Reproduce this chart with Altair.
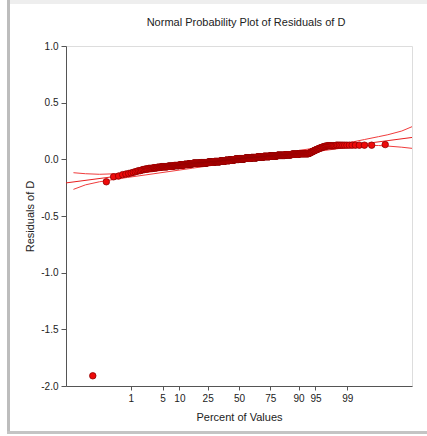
import altair as alt
import pandas as pd
from statistics import NormalDist

# ---- data ----
# sorted residual values (levels) and how many residuals sit at each level
resid_levels = [-1.910, -0.198, -0.154, -0.147,
                -0.135, -0.130, -0.125, -0.120, -0.115, -0.110, -0.105, -0.100, -0.095, -0.090, -0.085,
                -0.080, -0.075, -0.070, -0.065, -0.060, -0.055, -0.050, -0.045, -0.040,
                -0.035, -0.030, -0.025, -0.020, -0.015, -0.010, -0.005, 0.000,
                0.005, 0.010, 0.015, 0.020, 0.025, 0.030, 0.035, 0.040, 0.045, 0.050,
                0.055, 0.060, 0.065, 0.070, 0.075, 0.080, 0.085, 0.090, 0.095, 0.100,
                0.105, 0.110, 0.115, 0.120, 0.125, 0.130]
resid_counts = [1, 1, 1, 1,
                1, 1, 1, 1, 1, 1, 1, 2, 1, 2, 3,
                5, 5, 6, 12, 13, 14, 15, 15, 16,
                33, 35, 35, 35, 29, 29, 30, 30,
                37, 38, 38, 36, 35, 35, 35, 23, 23, 24,
                3, 2, 2, 2, 2, 2, 2, 2, 2, 2,
                2, 2, 3, 8, 13, 1]

# fitted reference line (normal score -> residual)
line_z = [-3.72, 3.72]
line_val = [-0.208, 0.193]

# confidence band curves
band_z = [-3.56, -3.3, -3.0, -2.7, -2.4, -2.0, -1.0, 0.0, 1.0, 2.0, 2.4, 2.7, 3.0, 3.2, 3.5, 3.72]
band_lower = [-0.265, -0.225, -0.198, -0.178, -0.160, -0.137, -0.078, -0.020, 0.033, 0.087,
              0.110, 0.120, 0.122, 0.117, 0.107, 0.097]
band_upper = [-0.118, -0.127, -0.132, -0.128, -0.118, -0.101, -0.050, 0.005, 0.060, 0.123,
              0.150, 0.175, 0.200, 0.217, 0.250, 0.288]

tick_pct = [1, 5, 10, 25, 50, 75, 90, 95, 99]
y_ticks = [-2.0, -1.5, -1.0, -0.5, 0.0, 0.5, 1.0]
title_text = ["Normal Probability Plot of Residuals of D"]

# ---- tables ----
resid = [v for v, c in zip(resid_levels, resid_counts) for _ in range(c)]
n = len(resid)
pts = pd.DataFrame({"resid": resid})
band = pd.DataFrame({"z": band_z, "lower": band_lower, "upper": band_upper})
fit = pd.DataFrame({"z": line_z, "v": line_val})
tick_z = [NormalDist().inv_cdf(p / 100) for p in tick_pct]

FONT = "Liberation Sans"
W, H = 346, 340
AX = "#555555"
TXT = "#222222"

xscale = alt.Scale(domain=[-3.72, 3.72], nice=False, zero=False)
yscale = alt.Scale(domain=[-2.0, 1.0], nice=False, zero=False)

xaxis = alt.Axis(values=tick_z, labelExpr="format(cumulativeNormal(datum.value)*100, '.0f')",
                 title="Percent of Values", grid=False, tickSize=4, labelPadding=3,
                 titlePadding=8, domainColor=AX, tickColor=AX,
                 labelFont=FONT, titleFont=FONT, labelFontSize=10, titleFontSize=11,
                 labelColor=TXT, titleColor=TXT, titleFontWeight="normal")
yaxis = alt.Axis(values=y_ticks, labelExpr="replace(format(datum.value, '.1f'), '\u2212', '-')",
                 title="Residuals of D", grid=False,
                 tickSize=5, labelPadding=3, titlePadding=5,
                 domainColor=AX, tickColor=AX,
                 labelFont=FONT, titleFont=FONT, labelFontSize=10, titleFontSize=11,
                 labelColor=TXT, titleColor=TXT, titleFontWeight="normal")

lower_line = alt.Chart(band).mark_line(color="#f03c3c", strokeWidth=1).encode(
    x=alt.X("z:Q", scale=xscale, axis=xaxis),
    y=alt.Y("lower:Q", scale=yscale, axis=yaxis),
)
upper_line = alt.Chart(band).mark_line(color="#f03c3c", strokeWidth=1).encode(
    x=alt.X("z:Q", scale=xscale),
    y=alt.Y("upper:Q", scale=yscale),
)
fit_line = alt.Chart(fit).mark_line(color="#e81e1e", strokeWidth=1).encode(
    x=alt.X("z:Q", scale=xscale),
    y=alt.Y("v:Q", scale=yscale),
)

points = alt.Chart(pts).transform_window(
    rank="row_number()", sort=[alt.SortField("resid", order="ascending")]
).transform_calculate(
    z=f"quantileNormal((datum.rank - 0.375) / ({n} + 0.25))"
).mark_circle(size=42, fill="#ee0a0a", stroke="#8e0000", strokeWidth=0.8, opacity=1).encode(
    x=alt.X("z:Q", scale=xscale),
    y=alt.Y("resid:Q", scale=yscale),
)

# chart title as a text mark
title = alt.Chart(pd.DataFrame({"t": title_text})).mark_text(
    font=FONT, fontSize=11, color=TXT, align="center", baseline="middle"
).encode(text="t:N", x=alt.value(W / 2 + 7), y=alt.value(-23))

# window-frame decoration
one = pd.DataFrame({"k": [0]})
frame_left = alt.Chart(one).mark_rule(color="#bdbdbd", strokeWidth=3).encode(
    x=alt.value(-57.5), y=alt.value(-46), y2=alt.value(388))
frame_bottom = alt.Chart(one).mark_rule(color="#c4c4c4", strokeWidth=3).encode(
    x=alt.value(-59), x2=alt.value(W + 15), y=alt.value(386.5))
frame_top = alt.Chart(one).mark_rule(color="#eeeeee", strokeWidth=4).encode(
    x=alt.value(-59), x2=alt.value(W + 15), y=alt.value(-44))

chart = alt.layer(
    frame_top, frame_left, frame_bottom, title, lower_line, upper_line, fit_line, points
).properties(
    width=W, height=H,
    autosize=alt.AutoSizeParams(type="none"),
    padding={"left": 66, "top": 46, "right": 15, "bottom": 50},
).configure_view(stroke=None).configure(background="white")

chart.save("out.html", embed_options={"renderer": "svg", "actions": False})
